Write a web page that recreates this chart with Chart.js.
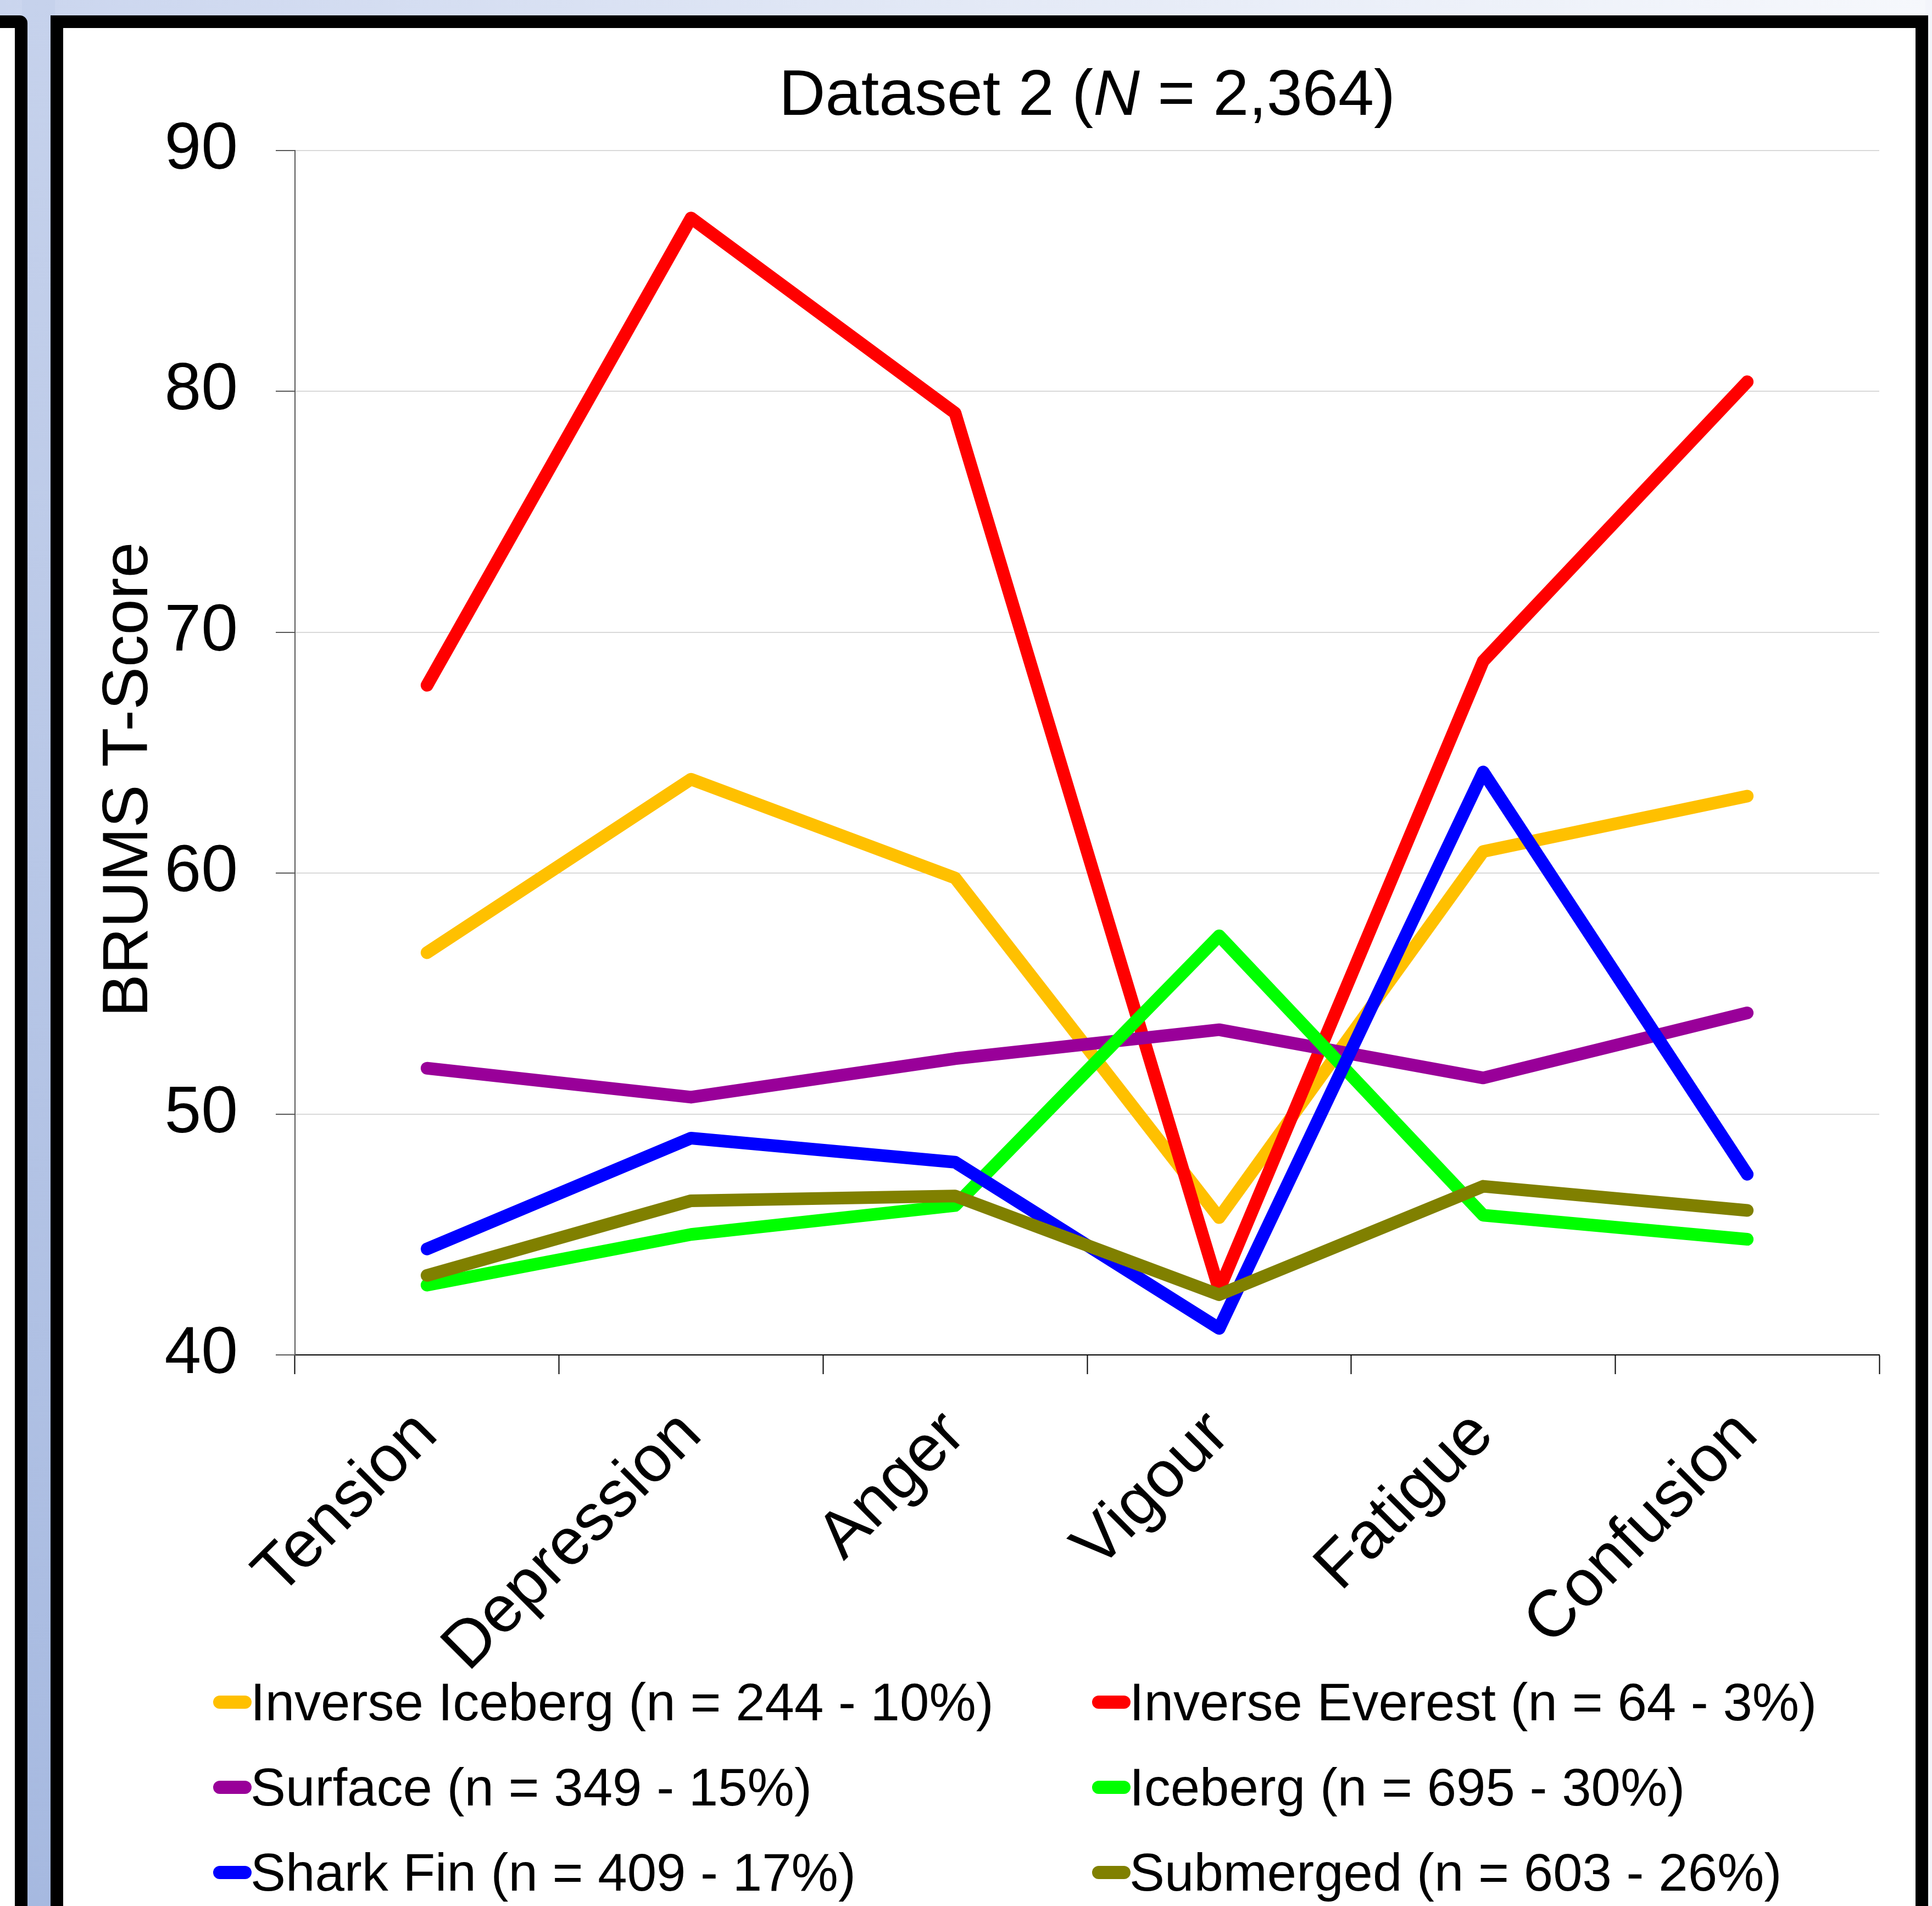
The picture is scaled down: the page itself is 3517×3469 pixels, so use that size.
<!DOCTYPE html>
<html>
<head>
<meta charset="utf-8">
<title>Dataset 2 (N = 2,364)</title>
<script src="https://cdn.jsdelivr.net/npm/chart.js@4.4.1/dist/chart.umd.min.js"></script>
<style>
    html, body { margin: 0; padding: 0; }
    body {
        width: 3517px; height: 3469px; position: relative; overflow: hidden;
        background: #ffffff; font-family: 'Liberation Sans', Arial, sans-serif;
    }
    #topBand { position: absolute; left: 0; top: 0; width: 3517px; height: 30px;
        background: linear-gradient(90deg, #cad5ee 0%, #e3e9f6 50%, #f6f8fc 100%); }
    #leftBand { position: absolute; left: 40px; top: 0; width: 60px; height: 3469px;
        background: linear-gradient(180deg, #c6d2ec 0%, #a6b9e0 100%); }
    #rightBand { position: absolute; left: 3505px; top: 0; width: 12px; height: 3469px; background: #f3f5fb; }
    #prevFrame { position: absolute; left: -100px; top: 28px; width: 150px; height: 4000px;
        box-sizing: border-box; border: 23px solid #000; border-top-right-radius: 14px; background: #fff; }
    #mainFrame { position: absolute; left: 92px; top: 28px; width: 3418px; height: 4000px;
        box-sizing: border-box; border: 23px solid #000; background: #fff; }
    #chartTitle { position: absolute; left: 537px; width: 2884px; top: 110px; text-align: center;
        font-size: 117px; line-height: 117px; color: #000; white-space: nowrap; }
    canvas#chart { position: absolute; left: 0; top: 0; }
    #legend { position: absolute; left: 388px; top: 3020px; display: grid;
        grid-template-columns: 1600px 1500px; grid-auto-rows: 155px; }
    .item { display: flex; align-items: center; font-size: 96px; color: #000; white-space: nowrap; }
    .swatch { width: 70px; height: 24px; border-radius: 12px; margin-right: -2px; flex: none; }
</style>
</head>
<body>
<div id="topBand"></div>
<div id="leftBand"></div>
<div id="rightBand"></div>
<div id="prevFrame"></div>
<div id="mainFrame"></div>
<div id="chartTitle">Dataset 2 (<i>N</i> = 2,364)</div>
<canvas id="chart" width="3517" height="3100"></canvas>
<div id="legend"></div>
<script>
// mood dimensions on the x axis
const categories = ['Tension', 'Depression', 'Anger', 'Vigour', 'Fatigue', 'Confusion'];

// mean T-scores per profile
const inverseIceberg = [56.7, 63.9, 59.8, 45.7, 60.9, 63.2];
const inverseEverest = [67.8, 87.2, 79.1, 42.7, 68.8, 80.4];
const surface        = [51.9, 50.7, 52.3, 53.5, 51.5, 54.2];
const iceberg        = [42.9, 45.0, 46.2, 57.4, 45.8, 44.8];
const sharkFin       = [44.4, 49.0, 48.0, 41.1, 64.2, 47.5];
const submerged      = [43.3, 46.4, 46.6, 42.5, 47.0, 46.0];

const seriesLabels = [
    'Inverse Iceberg (n = 244 - 10%)',
    'Inverse Everest (n = 64 - 3%)',
    'Surface (n = 349 - 15%)',
    'Iceberg (n = 695 - 30%)',
    'Shark Fin (n = 409 - 17%)',
    'Submerged (n = 603 - 26%)'
];
const seriesValues = [inverseIceberg, inverseEverest, surface, iceberg, sharkFin, submerged];
const seriesColors = ['#ffc000', '#ff0000', '#990099', '#00ff00', '#0000ff', '#808000'];

const yTicks = [40, 50, 60, 70, 80, 90];

const fontFamily = "'Liberation Sans', Arial, sans-serif";

const datasets = seriesLabels.map((label, i) => ({
    label: label,
    data: seriesValues[i],
    borderColor: seriesColors[i],
    backgroundColor: seriesColors[i],
    borderWidth: 23,
    borderCapStyle: 'round',
    borderJoinStyle: 'round',
    pointRadius: 0,
    tension: 0,
    fill: false,
    // later series are painted on top, like the original
    order: seriesLabels.length - i
}));

const ctx = document.getElementById('chart').getContext('2d');
const chart = new Chart(ctx, {
    type: 'line',
    data: {
        labels: categories,
        datasets: datasets
    },
    options: {
        responsive: false,
        animation: false,
        layout: {
            padding: { left: 117, right: 96, top: 274, bottom: 0 }
        },
        plugins: {
            legend: { display: false },
            tooltip: { enabled: false },
            title: { display: false }
        },
        scales: {
            x: {
                offset: true,
                grid: {
                    offset: true,
                    drawOnChartArea: false,
                    tickLength: 35,
                    tickColor: '#000',
                    tickWidth: 2
                },
                border: { color: '#000', width: 2 },
                ticks: {
                    color: '#000',
                    autoSkip: false,
                    minRotation: 45,
                    maxRotation: 45,
                    padding: 40,
                    font: { family: fontFamily, size: 120 }
                },
                afterFit: (scale) => { scale.height = 3100 - 2466; }
            },
            y: {
                min: yTicks[0],
                max: yTicks[yTicks.length - 1],
                afterBuildTicks: (scale) => { scale.ticks = yTicks.map(v => ({ value: v })); },
                grid: {
                    color: '#d9d9d9',
                    lineWidth: 2,
                    tickLength: 35,
                    tickColor: '#595959',
                    tickWidth: 2
                },
                border: { color: '#595959', width: 2 },
                ticks: {
                    color: '#000',
                    padding: 69,
                    font: { family: fontFamily, size: 120 }
                },
                title: {
                    display: true,
                    // trailing spaces nudge the centred label a little lower, as in the original
                    text: 'BRUMS T-Score\u00a0\u00a0\u00a0',
                    color: '#000',
                    font: { family: fontFamily, size: 117 },
                    padding: { top: 49, bottom: 0 }
                },
                afterFit: (scale) => { scale.width = 537 - 117; }
            }
        }
    }
});

// two-column legend built from the chart's datasets
const legendEl = document.getElementById('legend');
chart.data.datasets.forEach(ds => {
    const item = document.createElement('div');
    item.className = 'item';
    const sw = document.createElement('span');
    sw.className = 'swatch';
    sw.style.background = ds.borderColor;
    const txt = document.createElement('span');
    txt.textContent = ds.label;
    item.appendChild(sw);
    item.appendChild(txt);
    legendEl.appendChild(item);
});
</script>
</body>
</html>
